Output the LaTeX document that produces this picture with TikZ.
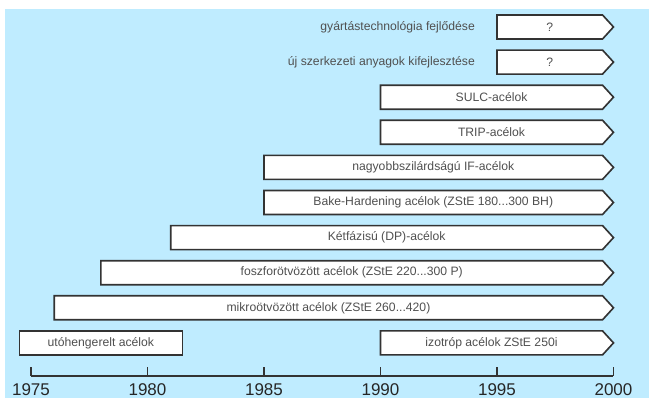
\documentclass[tikz,border=0pt]{standalone}
\usepackage{fontspec}
\setmainfont{Liberation Sans}
\usetikzlibrary{positioning}
\definecolor{skyback}{RGB}{191, 236, 255}
\definecolor{boxline}{RGB}{51, 51, 51}
\definecolor{labelgray}{RGB}{80, 80, 80}

\tikzset{
  bar/.style={draw=boxline, line width=1.4pt, fill=white, line join=miter},
  bartext/.style={text=labelgray, font=\fontsize{10.4}{12}\selectfont, inner sep=0pt},
  yearlabel/.style={text=black!85, font=\fontsize{14.5}{16}\selectfont, anchor=north, inner sep=0pt},
}

\begin{document}
\begin{tikzpicture}[x=0.699cm, y=-1.053cm]
  \useasboundingbox (-1.330,0.231) rectangle (26.524,11.570);
  % háttér
  \fill[skyback] (-1.116,0.487) rectangle (26.524,11.570);

  % sávok: sor / kezdő év (1975-től) / név / felirat
  \foreach \row/\from/\name/\txt in {
      1/20/kerd1/{?},
      2/20/kerd2/{?},
      3/15/sulc/{SULC-acélok},
      4/15/trip/{TRIP-acélok},
      5/10/ifacel/{nagyobbszilárdságú IF-acélok},
      6/10/bakeh/{Bake-Hardening acélok (ZStE 180...300 BH)},
      7/6/ketfaz/{Kétfázisú (DP)-acélok},
      8/3/foszfor/{foszforötvözött acélok (ZStE 220...300 P)},
      9/1/mikro/{mikroötvözött acélok (ZStE 260...420)},
      10/15/izotrop/{izotróp acélok ZStE 250i}} {
    \draw[bar] (\from,\row-0.342) -- (24.53,\row-0.342) -- (25,\row)
      -- (24.53,\row+0.342) -- (\from,\row+0.342) -- cycle;
    \node[bartext] (\name) at ({(\from+24.53)/2},\row) {\txt};
  }

  % lezárt sáv
  \draw[bar] (-0.5,9.658) rectangle (6.5,10.342);
  \node[bartext] (utohen) at (3,10) {utóhengerelt acélok};

  % feliratok a kérdőjeles sávok előtt
  \node[bartext, anchor=east] (gyart) at (19.06,1) {gyártástechnológia fejlődése};
  \node[bartext, anchor=east] (ujszerk) at (19.06,2) {új szerkezeti anyagok kifejlesztése};

  % időtengely
  \draw[boxline, line width=1.3pt] (0,10.94) -- (25,10.94);
  \foreach \yr [count=\k from 0] in {1975,1980,...,2000} {
    \draw[boxline, line width=1.3pt] (5*\k,10.69) -- (5*\k,10.94);
    \node[yearlabel] (y\yr) at (5*\k,11.16) {\yr};
  }
\end{tikzpicture}
\end{document}
